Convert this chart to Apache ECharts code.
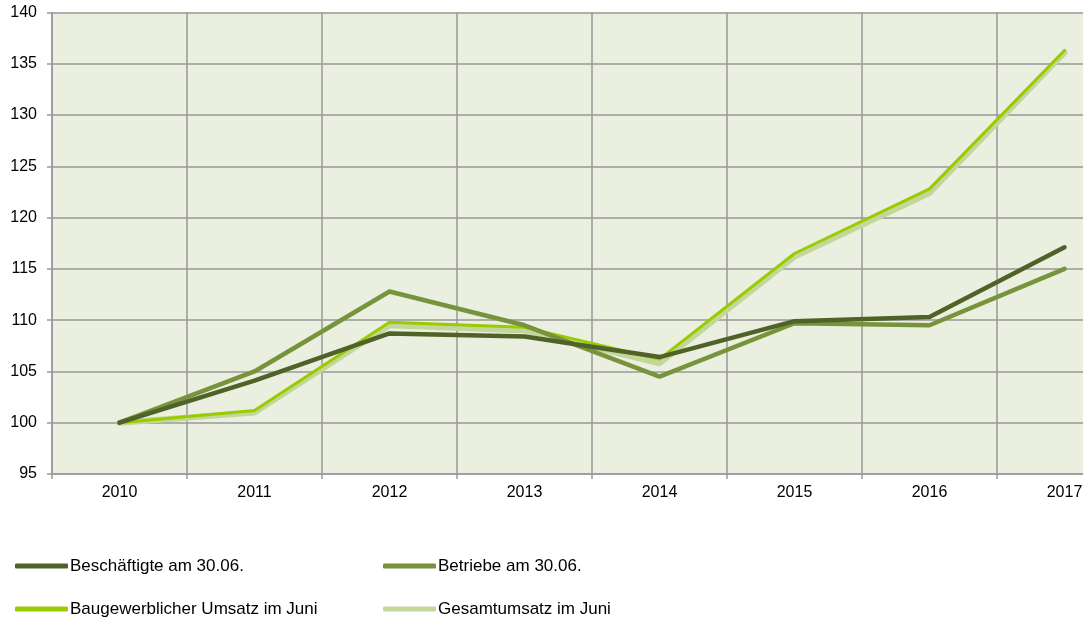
<!DOCTYPE html>
<html>
<head>
<meta charset="utf-8">
<script src="https://cdn.jsdelivr.net/npm/echarts@6/dist/echarts.min.js"></script>
<style>
  html, body { margin: 0; padding: 0; background: #fff; }
  #main { width: 1089px; height: 622px; }
</style>
</head>
<body>
<div id="main"></div>
<script>
const years = ["2010", "2011", "2012", "2013", "2014", "2015", "2016", "2017"];
const beschaeftigte = [100, 104.1, 108.7, 108.4, 106.4, 109.9, 110.3, 117.1];
const betriebe = [100, 105.0, 112.8, 109.5, 104.5, 109.7, 109.5, 115.0];
const baugewerblich = [100, 101.2, 109.8, 109.3, 106.2, 116.5, 122.8, 136.3];
const gesamtumsatz = [100, 101.0, 109.5, 109.0, 105.8, 116.2, 122.4, 136.1];

const chart = echarts.init(document.getElementById("main"));
const font = "Liberation Sans, Arial, sans-serif";

function line(name, data, color, width, z) {
  return {
    name: name,
    type: "line",
    data: data,
    symbol: "none",
    z: z,
    lineStyle: { color: color, width: width, cap: "round", join: "round" },
    itemStyle: { color: color },
  };
}

const legendBase = {
  orient: "vertical",
  top: 557,
  padding: 0,
  itemWidth: 53,
  itemHeight: 5,
  itemGap: 25,
  icon: "roundRect",
  textStyle: { fontSize: 17, lineHeight: 18, color: "#000", padding: [0, 0, 0, -3] },
};

chart.setOption({
  animation: false,
  textStyle: { fontFamily: font },
  grid: {
    left: 52,
    top: 12.5,
    bottom: 148,
    right: -43,
    outerBoundsMode: "none",
    containLabel: false,
    show: true,
    backgroundColor: "#ebefe0",
    borderWidth: 0,
  },
  xAxis: {
    type: "category",
    data: years,
    boundaryGap: true,
    axisLine: { lineStyle: { color: "#999", width: 1.5 } },
    axisTick: { show: true, length: 5, lineStyle: { color: "#999", width: 1.5 } },
    axisLabel: { color: "#000", fontSize: 16, margin: 11 },
    splitLine: { show: true, lineStyle: { color: "#999", width: 1.5 } },
  },
  yAxis: {
    type: "value",
    min: 95,
    max: 140,
    interval: 5,
    axisLine: { show: true, lineStyle: { color: "#999", width: 1.5 } },
    axisTick: { show: true, length: 5, lineStyle: { color: "#999", width: 1.5 } },
    axisLabel: { color: "#000", fontSize: 16, margin: 15 },
    splitLine: { show: true, lineStyle: { color: "#999", width: 1.5 } },
  },
  legend: [
    Object.assign({}, legendBase, {
      left: 15,
      data: ["Beschäftigte am 30.06.", "Baugewerblicher Umsatz im Juni"],
    }),
    Object.assign({}, legendBase, {
      left: 383,
      data: ["Betriebe am 30.06.", "Gesamtumsatz im Juni"],
    }),
  ],
  graphic: [
    {
      type: "rect",
      right: 0,
      top: 0,
      shape: { width: 6, height: 480 },
      style: { fill: "#fff" },
      z: 100,
    },
  ],
  series: [
    line("Gesamtumsatz im Juni", gesamtumsatz, "#c4d79b", 6, 2),
    line("Baugewerblicher Umsatz im Juni", baugewerblich, "#99cc00", 3, 3),
    line("Betriebe am 30.06.", betriebe, "#77933c", 4.5, 4),
    line("Beschäftigte am 30.06.", beschaeftigte, "#4f6228", 4.5, 5),
  ],
});
</script>
</body>
</html>
